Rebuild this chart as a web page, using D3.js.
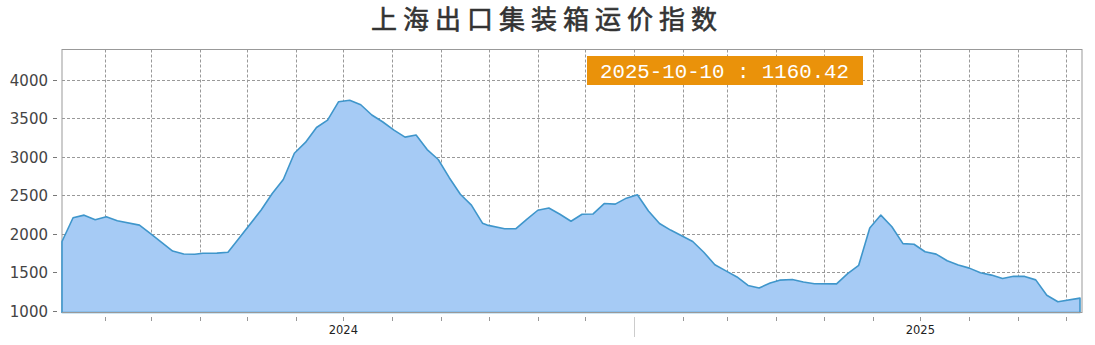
<!DOCTYPE html>
<html>
<head>
<meta charset="utf-8">
<script src="https://cdn.jsdelivr.net/npm/d3@7/dist/d3.min.js"></script>
<style>
html,body{margin:0;padding:0;background:#fff;}
svg{display:block;}
</style>
</head>
<body>
<div id="chart"></div>
<script>
const title = "上海出口集装箱运价指数";
const dates = [
"2024-01-05","2024-01-12","2024-01-19","2024-01-26","2024-02-02","2024-02-09","2024-02-23",
"2024-03-01","2024-03-08","2024-03-15","2024-03-22","2024-03-29","2024-04-03","2024-04-12",
"2024-04-19","2024-04-26","2024-05-10","2024-05-17","2024-05-24","2024-05-31","2024-06-07",
"2024-06-14","2024-06-21","2024-06-28","2024-07-05","2024-07-12","2024-07-19","2024-07-26",
"2024-08-02","2024-08-09","2024-08-16","2024-08-23","2024-08-30","2024-09-06","2024-09-13",
"2024-09-20","2024-09-27","2024-09-30","2024-10-11","2024-10-18","2024-10-25","2024-11-01",
"2024-11-08","2024-11-15","2024-11-22","2024-11-29","2024-12-06","2024-12-13","2024-12-20",
"2024-12-27","2025-01-03","2025-01-10","2025-01-17","2025-01-24","2025-02-07","2025-02-14",
"2025-02-21","2025-02-28","2025-03-07","2025-03-14","2025-03-21","2025-03-28","2025-04-03",
"2025-04-11","2025-04-18","2025-04-25","2025-05-09","2025-05-16","2025-05-23","2025-05-30",
"2025-06-06","2025-06-13","2025-06-20","2025-06-27","2025-07-04","2025-07-11","2025-07-18",
"2025-07-25","2025-08-01","2025-08-08","2025-08-15","2025-08-22","2025-08-29","2025-09-05",
"2025-09-12","2025-09-19","2025-09-26","2025-10-10"
];
const values = [
1896.65,2206.03,2239.61,2179.09,2217.73,2166.32,2109.89,
2000.00,1885.00,1772.71,1735.00,1730.97,1745.00,1745.97,
1757.00,1940.63,2305.79,2520.74,2703.38,3044.77,3184.87,
3379.47,3475.60,3714.32,3733.80,3674.86,3541.79,3450.32,
3345.50,3253.85,3281.45,3092.53,2963.38,2726.58,2510.96,
2370.34,2135.10,2110.00,2062.52,2062.00,2185.88,2303.21,
2331.58,2251.80,2160.66,2250.69,2255.12,2390.17,2383.38,
2460.34,2505.17,2292.63,2130.75,2045.45,1896.65,1757.31,
1595.22,1515.27,1436.30,1325.67,1292.75,1356.88,1394.41,
1403.97,1370.88,1347.84,1345.80,1479.39,1587.54,2072.71,
2240.35,2088.24,1869.59,1861.51,1763.49,1733.29,1646.90,
1592.59,1550.74,1489.68,1460.19,1415.36,1444.44,1443.34,
1398.11,1198.21,1114.52,1160.42
];
const yTicks = [1000,1500,2000,2500,3000,3500,4000];
const yearLabels = ["2024","2025"];

const W = 1095, H = 345;
const L = 62, T = 49.5, R = 1082, B = 312.5;
const parse = d3.utcParse("%Y-%m-%d");
const data = dates.map((d,i)=>({date:parse(d), value:values[i]}));

const x = d3.scaleUtc().domain([data[0].date, data[data.length-1].date]).range([L, 1080]);
const y = d3.scaleLinear().domain([974, 4393]).range([B, T]);

const svg = d3.select("#chart").append("svg").attr("width",W).attr("height",H);

// title
svg.append("text").attr("x",371).attr("y",28.5)
  .attr("font-family","'Noto Sans CJK SC', sans-serif").attr("font-size",26).attr("font-weight","normal")
  .attr("letter-spacing","6px").attr("fill","#333").attr("stroke","#333").attr("stroke-width",0.6)
  .text(title);

// gridlines
const months = d3.utcMonth.range(d3.utcMonth.ceil(data[0].date), d3.utcMonth.offset(d3.utcMonth.floor(data[data.length-1].date),1));
const grid = svg.append("g").attr("stroke","#999").attr("stroke-dasharray","3,2").attr("stroke-width",1);
months.forEach(m=>{
  const px = Math.round(x(m))+0.5;
  grid.append("line").attr("x1",px).attr("x2",px).attr("y1",T).attr("y2",B);
});
yTicks.forEach(v=>{
  const py = Math.round(y(v))+0.5;
  grid.append("line").attr("x1",L).attr("x2",R).attr("y1",py).attr("y2",py);
});

// frame
svg.append("rect").attr("x",L).attr("y",T).attr("width",R-L).attr("height",B-T)
  .attr("fill","none").attr("stroke","#999").attr("stroke-width",1);

// area
const area = d3.area().x(d=>x(d.date)).y0(B).y1(d=>y(d.value));
svg.append("path").datum(data).attr("d",area)
  .attr("fill","#a6cbf5").attr("stroke","#3f96cb").attr("stroke-width",1.6).attr("stroke-linejoin","round");

// bottom axis line
svg.append("line").attr("x1",L).attr("x2",R).attr("y1",B).attr("y2",B).attr("stroke","#999").attr("stroke-width",1.2);

// x ticks
const xt = svg.append("g");
months.forEach(m=>{
  const px = Math.round(x(m))+0.5;
  const isYear = m.getUTCMonth()===0;
  xt.append("line").attr("x1",px).attr("x2",px).attr("y1",317).attr("y2",isYear?337:321)
    .attr("stroke",isYear?"#ccc":"#999").attr("stroke-width",1);
});
yearLabels.forEach(yr=>{
  const mid = parse(yr+"-07-01");
  xt.append("text").attr("x",x(mid)).attr("y",334).attr("text-anchor","middle")
    .attr("font-family","'DejaVu Sans', sans-serif").attr("font-size",11.5).attr("fill","#222").text(yr);
});

// y ticks
const yt = svg.append("g");
yTicks.forEach(v=>{
  const py = Math.round(y(v))+0.5;
  yt.append("line").attr("x1",53).attr("x2",57).attr("y1",py).attr("y2",py).attr("stroke","#777");
  yt.append("text").attr("x",48).attr("y",py).attr("dy","0.36em").attr("text-anchor","end")
    .attr("font-family","'DejaVu Sans', sans-serif").attr("font-size",15).attr("fill","#444").text(v);
});

// last value label
const last = data[data.length-1];
const lbl = svg.append("g");
lbl.append("rect").attr("x",587).attr("y",56).attr("width",276).attr("height",29).attr("fill","#ea920a");
lbl.append("text").attr("x",600).attr("y",77.5)
  .attr("font-family","'Liberation Mono', monospace").attr("font-size",21).attr("fill","#fff")
  .attr("textLength",249).attr("lengthAdjust","spacingAndGlyphs")
  .text(d3.utcFormat("%Y-%m-%d")(last.date)+" : "+last.value.toFixed(2));
</script>
</body>
</html>
